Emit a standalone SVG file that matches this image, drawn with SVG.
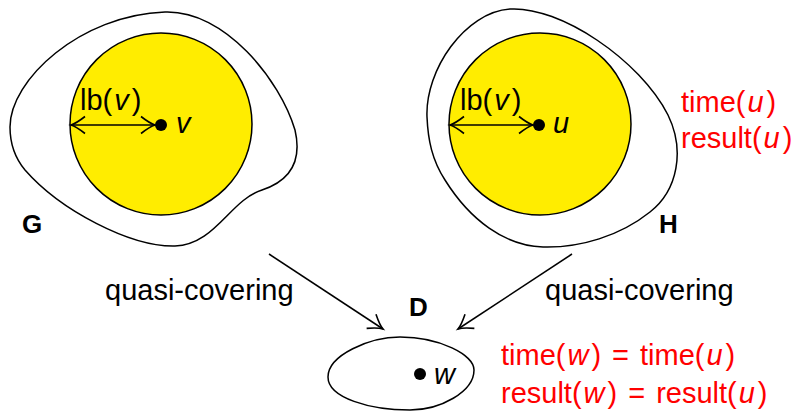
<svg xmlns="http://www.w3.org/2000/svg" width="793" height="411" viewBox="0 0 793 411">
<style>
.blob{fill:none;stroke:#000;stroke-width:1.5}
.ball{fill:#ffed00;stroke:#000;stroke-width:1.5}
.dot{fill:#000}
.t{font-family:"Liberation Sans",Arial,sans-serif;font-size:29px;fill:#000}
.r{fill:#ff0000}
.it{font-style:italic}
.lbl{font-family:"Liberation Sans",Arial,sans-serif;font-size:26px;font-weight:bold;fill:#000}
.arr{fill:none;stroke:#000;stroke-width:1.5}
</style>
<defs>
<marker id="tip" markerUnits="userSpaceOnUse" markerWidth="34" markerHeight="34" viewBox="-17 -17 34 34" refX="0" refY="0" orient="auto-start-reverse">
<path d="M -14,-8.5 Q -5,-1.5 0,0 Q -5,1.5 -14,8.5" fill="none" stroke="#000" stroke-width="1.6"/>
</marker>
</defs>
<rect width="793" height="411" fill="#fff"/>
<g id="G">
<path class="blob" d="M 10,127 C 10,80 80,15 165,12 C 225,10 280,80 295,130 C 302,160 292,180 262,190 C 230,200 215,245 175,246 C 130,247 60,210 25,170 C 15,158 10,142 10,127 Z"/>
<circle class="ball" cx="161" cy="124" r="91"/>
<line class="arr" x1="71" y1="125" x2="155" y2="125" marker-start="url(#tip)" marker-end="url(#tip)"/>
<circle class="dot" cx="161" cy="125" r="6"/>
<text class="t" x="80" y="110">lb(<tspan class="it" dx="2">v</tspan><tspan dx="3">)</tspan></text>
<text class="t it" x="176" y="133">v</text>
<text class="lbl" x="22" y="233">G</text>
</g>
<g id="H">
<path class="blob" d="M 427,117 C 425,70 465,12 510,9 C 560,6 640,60 668,115 C 685,150 678,190 650,212 C 620,236 580,248 543,247 C 505,246 470,220 445,180 C 432,160 428,140 427,117 Z"/>
<circle class="ball" cx="540" cy="124" r="91"/>
<line class="arr" x1="450" y1="125" x2="533" y2="125" marker-start="url(#tip)" marker-end="url(#tip)"/>
<circle class="dot" cx="539" cy="125" r="6"/>
<text class="t" x="460" y="110">lb(<tspan class="it" dx="2">v</tspan><tspan dx="3">)</tspan></text>
<text class="t it" x="553" y="133">u</text>
<text class="lbl" x="659" y="233">H</text>
<text class="t r" x="681" y="112">time(<tspan class="it" dx="2">u</tspan><tspan dx="3">)</tspan></text>
<text class="t r" x="681" y="148">result(<tspan class="it" dx="2">u</tspan><tspan dx="3">)</tspan></text>
</g>
<g id="D">
<path class="blob" d="M 328,377 C 328,355 370,337 400,337 C 440,337 474,355 474,370 C 474,392 440,410 410,410 C 370,410 328,398 328,377 Z"/>
<circle class="dot" cx="420" cy="374" r="6"/>
<text class="t it" x="434" y="384">w</text>
<text class="lbl" x="409" y="316">D</text>
<text class="t r" x="501" y="365">time(<tspan class="it" dx="2">w</tspan><tspan dx="3">)</tspan><tspan dx="11">=</tspan><tspan dx="11">time(</tspan><tspan class="it" dx="2">u</tspan><tspan dx="3">)</tspan></text>
<text class="t r" x="501" y="403">result(<tspan class="it" dx="2">w</tspan><tspan dx="3">)</tspan><tspan dx="11">=</tspan><tspan dx="11">result(</tspan><tspan class="it" dx="2">u</tspan><tspan dx="3">)</tspan></text>
</g>
<g id="connectors">
<line class="arr" x1="269" y1="254" x2="383" y2="329" marker-end="url(#tip)"/>
<line class="arr" x1="572" y1="254" x2="458" y2="329" marker-end="url(#tip)"/>
<text class="t" x="105" y="300">quasi-covering</text>
<text class="t" x="545" y="300">quasi-covering</text>
</g>
</svg>
